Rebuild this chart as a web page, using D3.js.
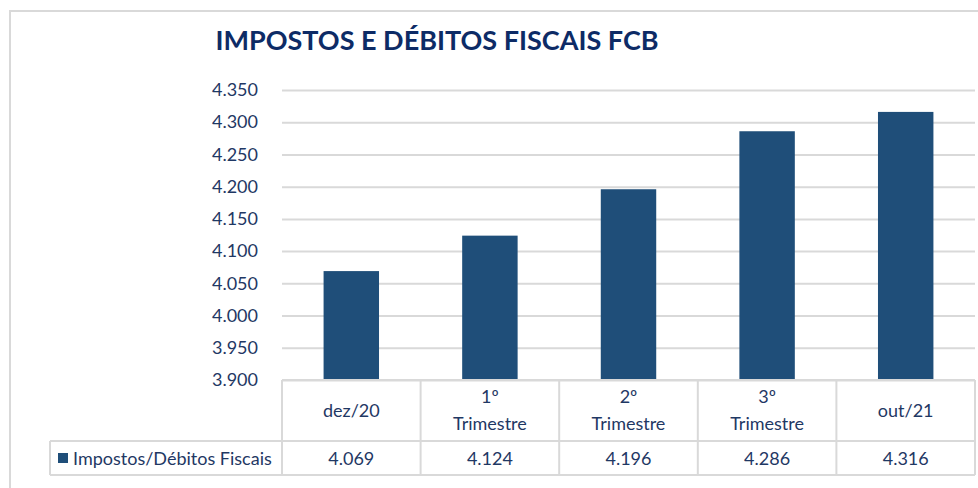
<!DOCTYPE html>
<html>
<head>
<meta charset="utf-8">
<script src="https://cdn.jsdelivr.net/npm/d3@7"></script>
<style>
  body { margin: 0; background: #fff; }
  text { font-family: Lato, "Open Sans", sans-serif; }
</style>
</head>
<body>
<svg width="978" height="488"></svg>
<script>
var categories = [["dez/20"], ["1º", "Trimestre"], ["2º", "Trimestre"], ["3º", "Trimestre"], ["out/21"]];
var values = [4069, 4124, 4196, 4286, 4316];
var valueLabels = ["4.069", "4.124", "4.196", "4.286", "4.316"];
var yTicks = [3900, 3950, 4000, 4050, 4100, 4150, 4200, 4250, 4300, 4350];
var seriesName = "Impostos/Débitos Fiscais";

var svg = d3.select("svg");
var textColor = "#1f3864";
var barColor = "#1f4e79";
var lineColor = "#d9d9d9";
var fs = 18;

const plot = {left: 282, right: 975, top: 90, bottom: 380};
const rowHead = 61, rowData = 34, legendLeft = 50;

// outer frame
svg.append("rect")
    .attr("x", 10).attr("y", 11)
    .attr("width", 990).attr("height", 500)
    .attr("fill", "none")
    .attr("stroke", lineColor)
    .attr("stroke-width", 2);

svg.append("text")
    .attr("x", 437).attr("y", 50)
    .attr("text-anchor", "middle")
    .attr("font-size", 27)
    .attr("font-weight", "bold")
    .attr("fill", "#0d2b66")
    .text("IMPOSTOS E DÉBITOS FISCAIS FCB");

var x = d3.scaleBand()
    .domain(d3.range(categories.length))
    .range([plot.left, plot.right])
    .paddingInner(0.6)
    .paddingOuter(0.3);

var cols = d3.scaleBand()
    .domain(d3.range(categories.length))
    .range([plot.left, plot.right]);

var y = d3.scaleLinear()
    .domain([3900, 4350])
    .range([plot.bottom, plot.top]);

// gridlines + labels
var yAxis = svg.append("g")
    .attr("transform", "translate(" + plot.left + ",0)")
    .call(d3.axisLeft(y)
        .tickValues(yTicks)
        .tickSize(-(plot.right - plot.left))
        .tickPadding(24)
        .tickFormat(function(d) { return d3.format(".3f")(d / 1000); }));
yAxis.select(".domain").remove();
yAxis.selectAll(".tick line").attr("stroke", lineColor).attr("stroke-width", 2);
yAxis.selectAll(".tick text")
    .attr("fill", textColor)
    .attr("font-size", fs)
    .attr("font-family", "Lato, 'Open Sans', sans-serif");

svg.append("g").selectAll("rect")
    .data(values)
    .enter().append("rect")
      .attr("x", function(d, i) { return x(i); })
      .attr("y", function(d) { return y(d); })
      .attr("width", x.bandwidth())
      .attr("height", function(d) { return y(3900) - y(d); })
      .attr("fill", barColor);

// data table
var t = svg.append("g").attr("stroke", lineColor).attr("stroke-width", 2).attr("fill", "none");
var yHead = plot.bottom, yMid = plot.bottom + rowHead, yEnd = yMid + rowData;
t.append("line").attr("x1", plot.left).attr("x2", plot.right).attr("y1", yHead).attr("y2", yHead);
t.append("line").attr("x1", legendLeft).attr("x2", plot.right).attr("y1", yMid).attr("y2", yMid);
t.append("line").attr("x1", legendLeft).attr("x2", plot.right).attr("y1", yEnd).attr("y2", yEnd);
t.append("line").attr("x1", legendLeft).attr("x2", legendLeft).attr("y1", yMid).attr("y2", yEnd);
t.selectAll(".sep")
    .data(d3.range(categories.length + 1))
    .enter().append("line")
      .attr("x1", function(i) { return i < categories.length ? cols(i) : plot.right; })
      .attr("x2", function(i) { return i < categories.length ? cols(i) : plot.right; })
      .attr("y1", yHead).attr("y2", yEnd);

var head = svg.append("g").selectAll("text")
    .data(categories)
    .enter().append("text")
      .attr("text-anchor", "middle")
      .attr("fill", textColor)
      .attr("font-size", fs)
      .attr("x", function(d, i) { return cols(i) + cols.bandwidth() / 2; })
      .attr("y", function(d) { return d.length > 1 ? yHead + 23 : yHead + 37; });
head.selectAll("tspan")
    .data(function(d) { return d; })
    .enter().append("tspan")
      .attr("x", function() { return this.parentNode.getAttribute("x"); })
      .attr("dy", function(d, i) { return i ? 27 : 0; })
      .text(function(d) { return d; });

svg.append("g").selectAll("text")
    .data(valueLabels)
    .enter().append("text")
      .attr("text-anchor", "middle")
      .attr("fill", textColor)
      .attr("font-size", fs)
      .attr("x", function(d, i) { return cols(i) + cols.bandwidth() / 2; })
      .attr("y", yMid + 24)
      .text(function(d) { return d; });

svg.append("rect")
    .attr("x", 58).attr("y", 453)
    .attr("width", 10).attr("height", 10)
    .attr("fill", barColor);
svg.append("text")
    .attr("x", 73).attr("y", yMid + 24)
    .attr("fill", textColor)
    .attr("font-size", fs)
    .text(seriesName);
</script>
</body>
</html>
